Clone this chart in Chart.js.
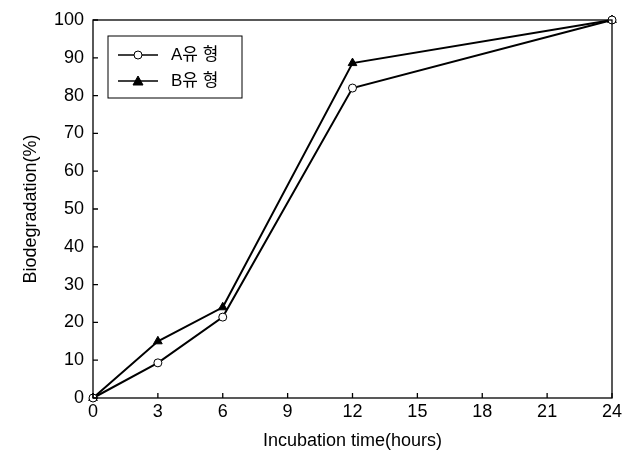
<!DOCTYPE html>
<html>
<head>
<meta charset="utf-8">
<script src="https://cdn.jsdelivr.net/npm/chart.js@4/dist/chart.umd.min.js"></script>
<style>
  html, body { margin: 0; padding: 0; background: #fff; }
  #wrap { width: 632px; height: 457px; }
</style>
</head>
<body>
<div id="wrap"><canvas id="chart" width="632" height="457"></canvas></div>
<script>
// data
const hours = [0, 3, 6, 12, 24];
const typeA = [0, 9.3, 21.4, 82, 100];
const typeB = [0, 15, 24, 88.6, 100];
const seriesNames = ['A유 형', 'B유 형'];
const xTicks = [0, 3, 6, 9, 12, 15, 18, 21, 24];
const yTicks = [0, 10, 20, 30, 40, 50, 60, 70, 80, 90, 100];

const FONT = "'Liberation Sans', Arial, 'Noto Sans CJK KR', sans-serif";

// frame round the plot area + inward ticks
const framePlugin = {
  id: 'frame',
  afterDraw(chart) {
    const { ctx, chartArea: a, scales } = chart;
    ctx.save();
    ctx.strokeStyle = '#000';
    ctx.lineWidth = 1.3;
    ctx.strokeRect(a.left, a.top, a.right - a.left, a.bottom - a.top);
    ctx.beginPath();
    xTicks.forEach(v => {
      const px = scales.x.getPixelForValue(v);
      ctx.moveTo(px, a.bottom);
      ctx.lineTo(px, a.bottom - 5);
    });
    yTicks.forEach(v => {
      const py = scales.y.getPixelForValue(v);
      ctx.moveTo(a.left, py);
      ctx.lineTo(a.left + 5, py);
    });
    ctx.stroke();
    ctx.restore();
  }
};

// legend box drawn inside the plot, top-left
const legendPlugin = {
  id: 'boxLegend',
  afterDraw(chart) {
    const { ctx, chartArea: a } = chart;
    const x0 = a.left + 15, y0 = a.top + 16, w = 134, h = 62;
    ctx.save();
    ctx.fillStyle = '#fff';
    ctx.fillRect(x0, y0, w, h);
    ctx.strokeStyle = '#000';
    ctx.lineWidth = 1;
    ctx.strokeRect(x0, y0, w, h);
    chart.data.datasets.forEach((ds, i) => {
      const y = y0 + 19 + i * 26;
      ctx.strokeStyle = '#000';
      ctx.lineWidth = 1.6;
      ctx.beginPath();
      ctx.moveTo(x0 + 10, y);
      ctx.lineTo(x0 + 50, y);
      ctx.stroke();
      ctx.lineWidth = 1;
      ctx.fillStyle = ds.pointBackgroundColor;
      ctx.beginPath();
      if (ds.pointStyle === 'triangle') {
        ctx.moveTo(x0 + 30, y - 5);
        ctx.lineTo(x0 + 35, y + 4);
        ctx.lineTo(x0 + 25, y + 4);
        ctx.closePath();
      } else {
        ctx.arc(x0 + 30, y, 4, 0, Math.PI * 2);
      }
      ctx.fill();
      ctx.stroke();
      ctx.fillStyle = '#000';
      ctx.font = "17px " + FONT;
      ctx.textBaseline = 'middle';
      ctx.fillText(ds.label, x0 + 63, y);
    });
    ctx.restore();
  }
};

new Chart(document.getElementById('chart'), {
  type: 'line',
  data: {
    datasets: [
      {
        label: seriesNames[0],
        data: hours.map((h, i) => ({ x: h, y: typeA[i] })),
        borderColor: '#000',
        borderWidth: 2,
        pointStyle: 'circle',
        pointRadius: 4,
        pointBackgroundColor: '#fff',
        pointBorderColor: '#000',
        pointBorderWidth: 1,
        tension: 0
      },
      {
        label: seriesNames[1],
        data: hours.map((h, i) => ({ x: h, y: typeB[i] })),
        borderColor: '#000',
        borderWidth: 2,
        pointStyle: 'triangle',
        pointRadius: 5,
        pointBackgroundColor: '#000',
        pointBorderColor: '#000',
        pointBorderWidth: 1,
        tension: 0
      }
    ]
  },
  options: {
    responsive: false,
    animation: false,
    clip: false,
    layout: { padding: { left: 0, top: 20, right: 20, bottom: 0 } },
    plugins: { legend: { display: false }, tooltip: { enabled: false } },
    scales: {
      x: {
        type: 'linear',
        min: 0,
        max: 24,
        afterFit(s) { s.height = 59; },
        afterBuildTicks(s) { s.ticks = xTicks.map(v => ({ value: v })); },
        grid: { display: false, drawTicks: false },
        border: { display: false },
        ticks: { color: '#000', padding: 3, font: { family: FONT, size: 18 } },
        title: {
          display: true,
          text: 'Incubation time(hours)',
          color: '#000',
          font: { family: FONT, size: 18 },
          padding: { top: 0, bottom: 5 }
        }
      },
      y: {
        min: 0,
        max: 100,
        afterFit(s) { s.width = 93; },
        afterBuildTicks(s) { s.ticks = yTicks.map(v => ({ value: v })); },
        grid: { display: false, drawTicks: false },
        border: { display: false },
        ticks: { color: '#000', padding: 9, font: { family: FONT, size: 18 } },
        title: {
          display: true,
          text: 'Biodegradation(%)',
          color: '#000',
          font: { family: FONT, size: 18 },
          padding: { top: 20, bottom: 0 }
        }
      }
    }
  },
  plugins: [framePlugin, legendPlugin]
});
</script>
</body>
</html>
